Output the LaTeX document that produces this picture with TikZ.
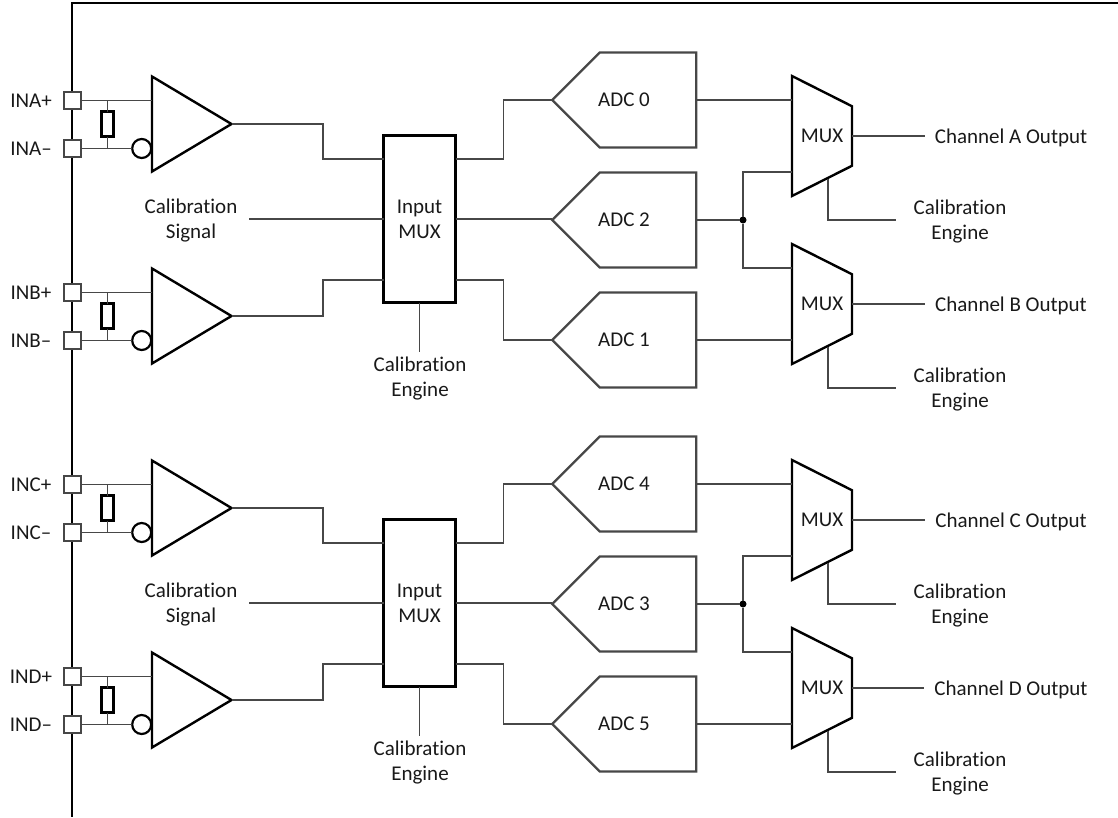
\documentclass[tikz,border=0pt]{standalone}
\usepackage{fontspec}
\setmainfont{Carlito}[Ligatures=NoCommon]
\usetikzlibrary{calc,shapes.geometric,shapes.symbols}
\begin{document}
\begin{tikzpicture}[x=1pt,y=-1pt,
every node/.style={font=\fontsize{21}{25}\selectfont,align=center,inner sep=0pt,outer sep=0pt,text=black!90},
wire/.style={draw=black!72,line width=1.6pt},
pad/.style={draw=black!72,fill=white,line width=1.5pt,minimum size=17pt},
amp/.style={draw,isosceles triangle,isosceles triangle stretches,minimum width=95pt,minimum height=79.5pt,line width=2.4pt,anchor=lower side},
rstr/.style={draw,line width=2.2pt,minimum width=12pt,minimum height=25pt},
bub/.style={draw,circle,line width=2.2pt,minimum size=19pt},
imuxbox/.style={draw,line width=2.6pt,minimum width=72pt,minimum height=167pt,text depth=-5pt},
adcbox/.style={draw=black!72,signal,signal to=west,signal pointer angle=90,line width=2.2pt,minimum width=144pt,minimum height=95pt},
muxbox/.style={draw,trapezium,trapezium stretches body,trapezium angle=54.46,shape border rotate=270,line width=2.4pt,minimum width=120pt,minimum height=60pt},
jdot/.style={circle,fill=black,minimum size=7pt},
calr/.style={inner xsep=18pt,text depth=-2pt},
call/.style={inner xsep=12pt,text depth=-2pt},
calb/.style={inner ysep=5pt,text depth=-2pt},
outl/.style={inner xsep=10pt,text depth=0pt}]
\useasboundingbox (0,0) rectangle (1118,817);
\coordinate (frameR) at (1118,3);
\coordinate (frameC) at (72,3);
\coordinate (frameB) at (72,817);
\draw[line width=2.4pt] (frameR) -- (frameC) -- (frameB);
\foreach \blk/\dy/\chA/\chB/\adcA/\adcB/\adcC in {top/0/A/B/0/2/1,bot/384/C/D/4/3/5}{
\begin{scope}[shift={(0,\dy)}]
\node[imuxbox] (imux\blk) at (419.5,219) {Input\\MUX};
\node[call] (sig\blk) at (191,219) {Calibration\\Signal};
\node[calb] (eng\blk) at (420,377) {Calibration\\Engine};
\draw[wire] (sig\blk.east) -- (imux\blk.west);
\draw[wire] (imux\blk.south) -- (imux\blk.south |- eng\blk.north);
\foreach \ch/\off/\jog in {\chA/0/-60,\chB/192/61}{
\node[pad] (pad\ch p) at (72.5,{100.5+\off}) {};
\node[pad] (pad\ch m) at (72.5,{148.5+\off}) {};
\node (lbl\ch p) at (31,{100.5+\off}) {IN\ch+};
\node (lbl\ch m) at (31,{148.5+\off}) {IN\ch–};
\node[amp] (amp\ch) at (152,{124+\off}) {};
\node[rstr] (res\ch) at (107.5,{124+\off}) {};
\node[bub] (bub\ch) at (141.7,{148.5+\off}) {};
\draw[wire] (pad\ch p.east) -- (pad\ch p.east -| amp\ch.lower side);
\draw[wire] (pad\ch m.east) -- (bub\ch.west);
\draw[wire] (res\ch.north) -- (res\ch.north |- pad\ch p);
\draw[wire] (res\ch.south) -- (res\ch.south |- pad\ch m);
\draw[wire] (amp\ch.apex) -- ++(91.5,0) |- ($(imux\blk.west)+(0,\jog)$);
}
\node[adcbox,label={[xshift=-24pt]center:ADC \adcA}] (adc\adcA) at (648,100) {};
\node[adcbox,label={[xshift=-24pt]center:ADC \adcB}] (adc\adcB) at (648,220) {};
\node[adcbox,label={[xshift=-24pt]center:ADC \adcC}] (adc\adcC) at (648,340) {};
\draw[wire] ($(imux\blk.east)+(0,-60)$) -- ++(48,0) |- (adc\adcA.west);
\draw[wire] (imux\blk.east) -- (imux\blk.east -| adc\adcB.west);
\draw[wire] ($(imux\blk.east)+(0,61)$) -- ++(48,0) |- (adc\adcC.west);
\node[muxbox] (mux\chA) at (822,136) {MUX};
\node[muxbox] (mux\chB) at (822,304) {MUX};
\node[jdot] (dot\blk) at (743,220) {};
\draw[wire] (adc\adcA.east) -- (adc\adcA.east -| mux\chA.west);
\draw[wire] (adc\adcC.east) -- (adc\adcC.east -| mux\chB.west);
\draw[wire] (adc\adcB.east) -- (dot\blk);
\draw[wire] (dot\blk) |- ($(mux\chA.center)+(-30,36)$);
\draw[wire] (dot\blk) |- ($(mux\chB.center)+(-30,-36)$);
\node[outl] (out\chA) at (1011,136) {Channel \chA{} Output};
\node[outl] (out\chB) at (1011,304) {Channel \chB{} Output};
\draw[wire] ($(mux\chA.center)+(30,0)$) -- (out\chA.west);
\draw[wire] ($(mux\chB.center)+(30,0)$) -- (out\chB.west);
\node[calr] (cal\chA) at (960,220) {Calibration\\Engine};
\node[calr] (cal\chB) at (960,388) {Calibration\\Engine};
\draw[wire] ($(mux\chA.center)+(6,43)$) |- (cal\chA.west);
\draw[wire] ($(mux\chB.center)+(6,43)$) |- (cal\chB.west);
\end{scope}
}
\end{tikzpicture}
\end{document}
